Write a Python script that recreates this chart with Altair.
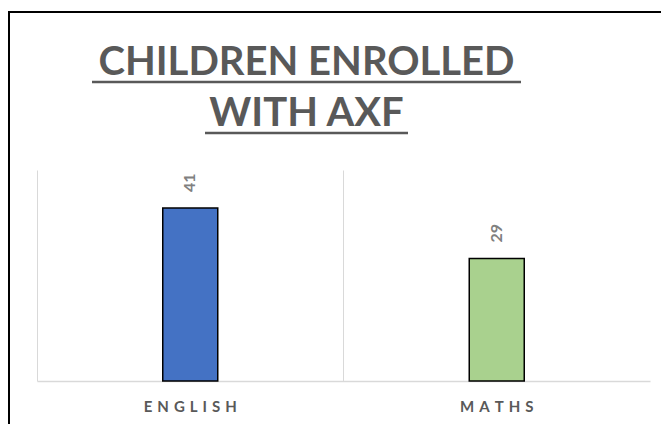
import altair as alt
import pandas as pd

# ---- data ----
subjects = ["ENGLISH", "MATHS"]
enrolled = [41, 29]
bar_colors = ["#4472C4", "#A9D18E"]
title_lines = ["CHILDREN ENROLLED", "WITH AXF"]

df = pd.DataFrame({"subject": subjects, "enrolled": enrolled})

W, H = 613, 211
GRAY_TXT = "#595959"
GRID = "#D9D9D9"

xscale = alt.Scale(domain=subjects, paddingInner=0, paddingOuter=0)
yscale = alt.Scale(domain=[0, 50], nice=False, zero=True)

base = alt.Chart(df)

bars = base.mark_bar(size=55, stroke="#000000", strokeWidth=1.5).encode(
    x=alt.X(
        "subject:N", scale=xscale, sort=subjects, title=None,
        axis=alt.Axis(
            orient="bottom", grid=False, ticks=False, domain=True,
            domainColor=GRID, domainWidth=1.5, labelAngle=0,
            labelFont="Lato", labelFontSize=15, labelFontWeight="bold",
            labelColor=GRAY_TXT, labelPadding=18,
            labelExpr="join(split(datum.label, ''), '\u2004')",
        ),
    ),
    y=alt.Y(
        "enrolled:Q", scale=yscale, title=None,
        axis=alt.Axis(orient="right", labels=False, ticks=False, grid=False,
                      domain=True, domainColor=GRID, domainWidth=1),
    ),
    color=alt.Color("subject:N", scale=alt.Scale(domain=subjects, range=bar_colors), legend=None),
)

values = base.mark_text(
    angle=270, align="left", baseline="middle", dx=16,
    font="Lato", fontSize=16, fontWeight="bold", color="#808080",
).encode(
    x=alt.X(
        "subject:N", scale=xscale, sort=subjects, title=None,
        axis=alt.Axis(orient="top", grid=True, gridColor=GRID, gridWidth=1,
                      bandPosition=0, labels=False, ticks=False, domain=False),
    ),
    y=alt.Y("enrolled:Q", scale=yscale, axis=None),
    text="enrolled:Q",
)

one = pd.DataFrame({"d": [0]})

def title_line(txt, y):
    return alt.Chart(one).mark_text(
        font="Lato", fontSize=40, fontWeight="bold", color=GRAY_TXT,
        align="center", baseline="alphabetic",
    ).encode(x=alt.value(269.5), y=alt.value(y), text=alt.value(txt))

def hrule(x1, x2, y, color, width):
    return alt.Chart(one).mark_rule(color=color, strokeWidth=width).encode(
        x=alt.value(x1), x2=alt.value(x2), y=alt.value(y))

def vrule(x, y1, y2, color, width):
    return alt.Chart(one).mark_rule(color=color, strokeWidth=width).encode(
        x=alt.value(x), y=alt.value(y1), y2=alt.value(y2))

title1 = title_line(title_lines[0], -95)
title2 = title_line(title_lines[1], -44)

# title underlines and the chart-frame border (decoration)
underline1 = hrule(55, 484, -88, GRAY_TXT, 2.5)
underline2 = hrule(168, 371, -37, GRAY_TXT, 2.5)
border_top = hrule(-29, 640, -158, "#000000", 2)
border_left = vrule(-28, -159, 260, "#000000", 2)

chart = alt.layer(
    bars, values, title1, title2, underline1, underline2, border_top, border_left
).resolve_axis(x="independent").properties(
    width=W, height=H,
    padding={"left": 29, "top": 162, "right": 11, "bottom": 43},
    autosize=alt.AutoSizeParams(type="none"),
    background="#FFFFFF",
).configure_view(stroke=None)

chart.save("out.html", embed_options={"renderer": "svg", "actions": False})
